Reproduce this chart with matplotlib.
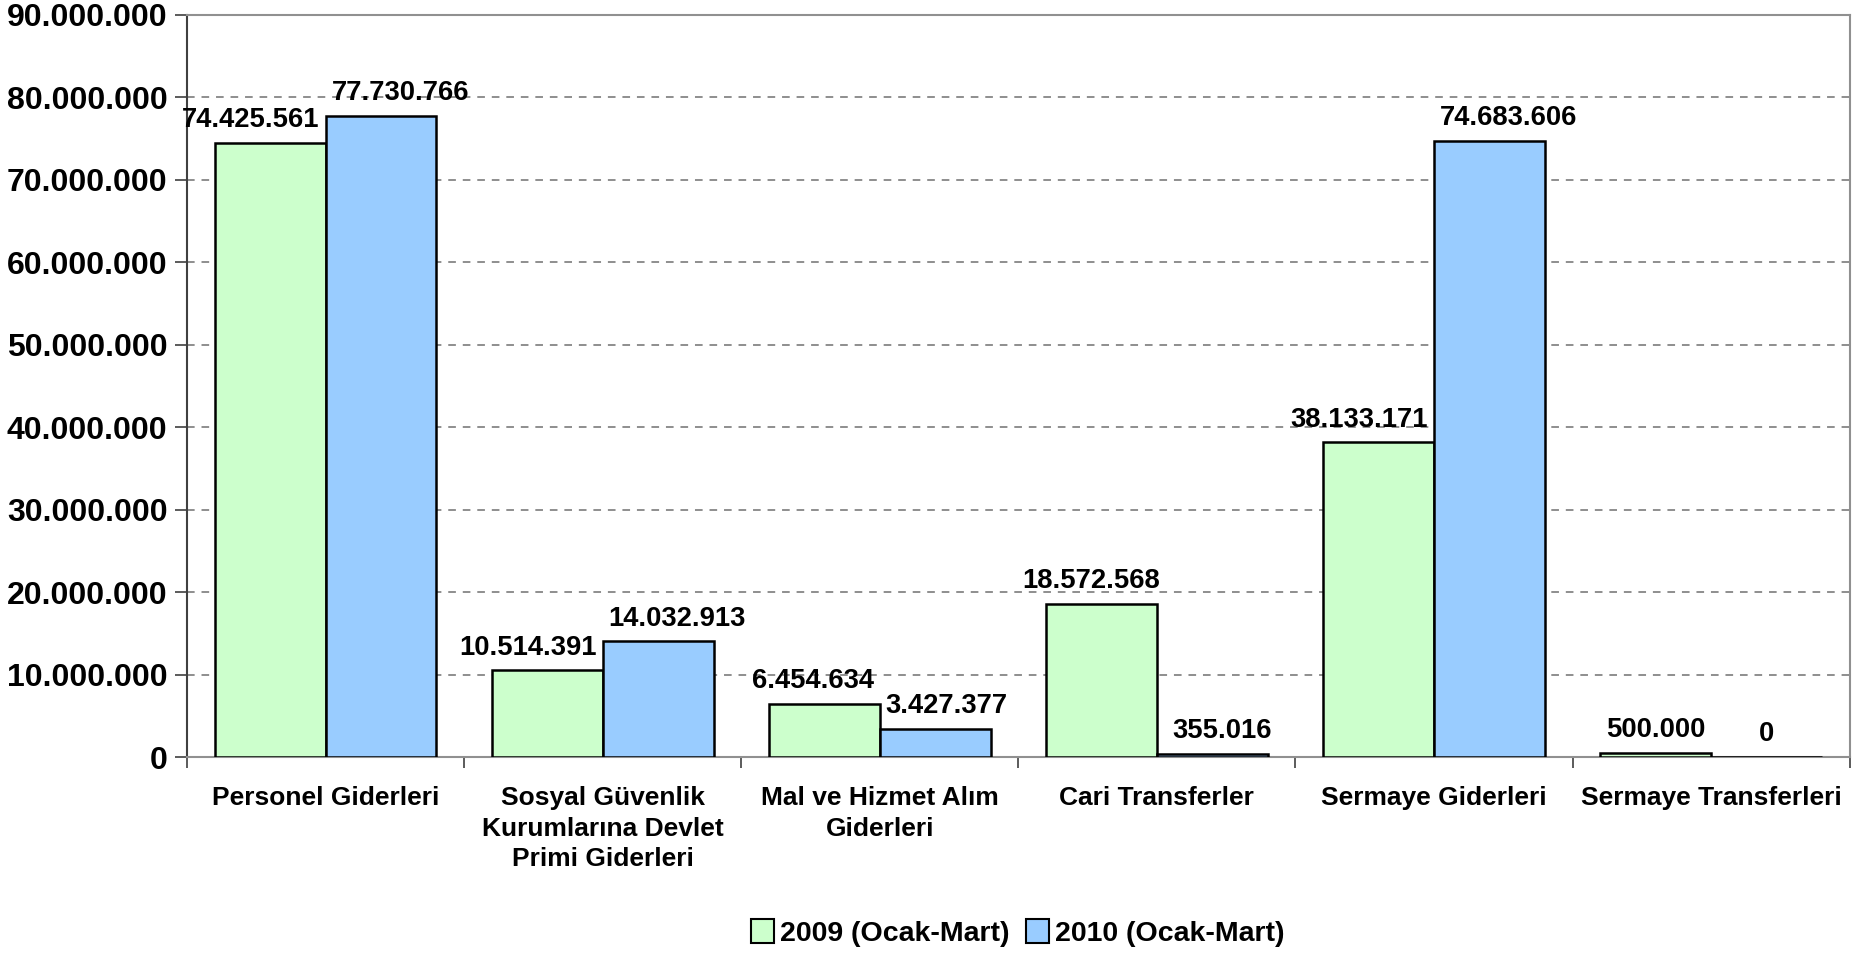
import matplotlib
matplotlib.use("Agg")
import matplotlib.pyplot as plt
import numpy as np
from matplotlib.ticker import FuncFormatter, MultipleLocator, FixedLocator
from matplotlib.patches import Patch

# -------------------------------
# Data
# -------------------------------
categories = [
    "Personel Giderleri",
    "Sosyal Güvenlik\nKurumlarına Devlet\nPrimi Giderleri",
    "Mal ve Hizmet Alım\nGiderleri",
    "Cari Transferler",
    "Sermaye Giderleri",
    "Sermaye Transferleri",
]
values_2009 = [74425561, 10514391, 6454634, 18572568, 38133171, 500000]
values_2010 = [77730766, 14032913, 3427377, 355016, 74683606, 0]
series_names = ["2009 (Ocak-Mart)", "2010 (Ocak-Mart)"]

GREEN = "#CCFFCC"
BLUE = "#99CCFF"
FONT = "Liberation Sans"


def dotted(v):
    return f"{int(round(v)):,}".replace(",", ".")


def main():
    plt.rcParams["font.family"] = [FONT, "DejaVu Sans"]
    plt.rcParams["font.weight"] = "bold"

    fig = plt.figure(figsize=(18.74, 9.55), dpi=100)
    ax = fig.add_axes([0.0998, 0.2073, 0.8872, 0.7775])

    x = np.arange(len(categories))
    w = 0.4
    bars1 = ax.bar(x - w / 2, values_2009, w, color=GREEN, edgecolor="black", linewidth=1.8, zorder=3)
    bars2 = ax.bar(x + w / 2, values_2010, w, color=BLUE, edgecolor="black", linewidth=1.8, zorder=3)

    # value labels
    labels = []
    for bars, vals in ((bars1, values_2009), (bars2, values_2010)):
        row = []
        for b, v in zip(bars, vals):
            a = ax.annotate(dotted(v), (b.get_x() + b.get_width() / 2, v),
                            xytext=(0, 7), textcoords="offset points",
                            ha="center", va="bottom", fontsize=19.7, fontweight="bold")
            row.append(a)
        labels.append(row)

    ax.set_xlim(-0.5, len(categories) - 0.5)
    ax.set_ylim(0, 90000000)
    ax.yaxis.set_major_locator(MultipleLocator(10000000))
    ax.yaxis.set_major_formatter(FuncFormatter(lambda v, p: dotted(v)))
    ax.tick_params(axis="y", direction="out", length=9, width=1.2, pad=5,
                   labelsize=23, color="#404040")

    ax.set_xticks(x)
    ax.set_xticklabels(categories, fontsize=19, fontweight="bold", linespacing=1.35)
    ax.tick_params(axis="x", which="major", length=0, pad=21)
    ax.xaxis.set_minor_locator(FixedLocator(np.arange(-0.5, len(categories), 1.0)))
    ax.tick_params(axis="x", which="minor", direction="out", length=8, width=1.2, color="#404040")

    for lbl in ax.get_yticklabels():
        lbl.set_fontweight("bold")

    ax.grid(axis="y", linestyle=(0, (5, 4.5)), color="#707070", linewidth=1.1, zorder=0)
    ax.spines["left"].set_color("#404040")
    ax.spines["left"].set_linewidth(1.5)
    for s in ("top", "right", "bottom"):
        ax.spines[s].set_color("#909090")
        ax.spines[s].set_linewidth(1.5)

    handles = [Patch(facecolor=GREEN, edgecolor="black", linewidth=1.5),
               Patch(facecolor=BLUE, edgecolor="black", linewidth=1.5)]
    fig.legend(handles, series_names, loc="center", bbox_to_anchor=(0.543, 0.023),
               ncol=2, frameon=False, prop={"family": FONT, "weight": "bold", "size": 20.5},
               handlelength=0.8, handleheight=0.9, handletextpad=0.2, columnspacing=0.6)

    # push neighbouring value labels apart when they collide
    fig.canvas.draw()
    renderer = fig.canvas.get_renderer()
    gap_px = 12
    for a1, a2 in zip(labels[0], labels[1]):
        e1 = a1.get_window_extent(renderer)
        e2 = a2.get_window_extent(renderer)
        overlap = e1.x1 + gap_px - e2.x0
        if overlap > 0:
            shift = overlap / 2 * 72 / fig.dpi
            a1.xyann = (-shift, 7)
            a2.xyann = (shift, 7)

    fig.savefig("out.png", dpi=100)


if __name__ == "__main__":
    main()
